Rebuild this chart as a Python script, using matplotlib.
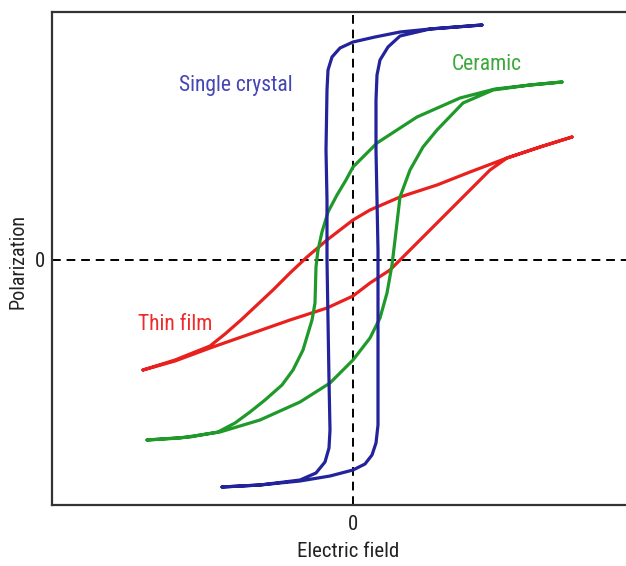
import matplotlib.pyplot as plt

'''hysteresis loops: polarization vs electric field for three ferroelectrics'''

# each loop: ascending branch (lower left tip -> upper right tip), then descending branch back
crystal_up_E = [-1.31, -0.93, -0.53, -0.23, 0.00, 0.12, 0.19, 0.23, 0.25, 0.25, 0.25, 0.25,
                0.24, 0.23, 0.23, 0.24, 0.27, 0.35, 0.47, 0.77, 1.29]
crystal_up_P = [-2.27, -2.25, -2.21, -2.16, -2.10, -2.04, -1.95, -1.83, -1.65, -1.20, -0.40, 0.10,
                0.60, 1.10, 1.60, 1.85, 2.00, 2.13, 2.24, 2.31, 2.35]
crystal_down_E = [1.29, 0.77, 0.47, 0.22, 0.00, -0.13, -0.21, -0.25, -0.26, -0.27, -0.26, -0.26,
                  -0.25, -0.24, -0.23, -0.24, -0.28, -0.37, -0.53, -0.93, -1.31]
crystal_down_P = [2.35, 2.31, 2.28, 2.23, 2.18, 2.12, 2.03, 1.90, 1.70, 1.10, 0.60, 0.00,
                  -0.60, -1.20, -1.70, -1.88, -2.02, -2.13, -2.20, -2.25, -2.27]

ceramic_up_E = [-2.06, -1.73, -1.33, -0.93, -0.53, -0.23, 0.00, 0.17, 0.27, 0.34, 0.39, 0.42,
                0.47, 0.57, 0.70, 0.84, 1.10, 1.40, 1.77, 2.09]
ceramic_up_P = [-1.80, -1.78, -1.72, -1.60, -1.42, -1.23, -1.00, -0.78, -0.58, -0.33, -0.05, 0.20,
                0.63, 0.90, 1.13, 1.30, 1.57, 1.70, 1.75, 1.78]
ceramic_down_E = [2.09, 1.77, 1.42, 1.07, 0.64, 0.44, 0.24, 0.00, -0.07, -0.16, -0.25, -0.31,
                  -0.35, -0.37, -0.38, -0.41, -0.50, -0.60, -0.71, -0.88, -1.03, -1.18, -1.35,
                  -1.63, -2.06]
ceramic_down_P = [1.78, 1.75, 1.71, 1.62, 1.43, 1.30, 1.17, 0.93, 0.80, 0.65, 0.48, 0.28,
                  0.10, -0.07, -0.43, -0.60, -0.90, -1.10, -1.25, -1.40, -1.52, -1.63, -1.72,
                  -1.77, -1.80]

film_up_E = [-2.10, -1.78, -1.43, -1.03, -0.63, -0.26, 0.00, 0.17, 0.37, 0.49, 0.67, 0.90,
             1.17, 1.37, 1.54, 1.87, 2.19]
film_up_P = [-1.10, -1.01, -0.88, -0.74, -0.60, -0.48, -0.36, -0.23, -0.10, 0.02, 0.20, 0.43,
             0.70, 0.90, 1.02, 1.13, 1.23]
film_down_E = [2.19, 1.87, 1.54, 1.17, 0.84, 0.47, 0.17, 0.00, -0.26, -0.46, -0.63, -0.80,
               -0.96, -1.12, -1.28, -1.43, -1.78, -2.10]
film_down_P = [1.23, 1.13, 1.02, 0.88, 0.75, 0.63, 0.50, 0.40, 0.20, 0.03, -0.13, -0.30,
               -0.45, -0.60, -0.74, -0.86, -1.00, -1.10]

plt.rcParams['font.family'] = ['Roboto Condensed', 'Liberation Sans', 'DejaVu Sans']

fig = plt.figure(figsize=(6.26, 5.66), dpi=100)
ax = fig.add_axes([52 / 626, 61 / 566, 574 / 626, 493 / 566])

# zero lines
ax.axhline(0, color='black', lw=1.4, ls=(0, (4.5, 3)), zorder=1)
ax.axvline(0, color='black', lw=1.4, ls=(0, (4.5, 3)), zorder=1)

loops = [
    (film_up_E + film_down_E, film_up_P + film_down_P, '#e8201e'),
    (ceramic_up_E + ceramic_down_E, ceramic_up_P + ceramic_down_P, '#1f9a2a'),
    (crystal_up_E + crystal_down_E, crystal_up_P + crystal_down_P, '#23239c'),
]
for E, P, c in loops:
    ax.plot(E, P, color=c, lw=2.3, solid_joinstyle='round', solid_capstyle='round', zorder=2)

ax.text(-1.17, 1.74, 'Single crystal', color='#4545b5', fontsize=15.5, ha='center', va='center')
ax.text(1.34, 1.95, 'Ceramic', color='#3aa83a', fontsize=15.5, ha='center', va='center')
ax.text(-1.78, -0.65, 'Thin film', color='#ee2a2a', fontsize=15.5, ha='center', va='center')

ax.set_xlim(-3.01, 2.73)
ax.set_ylim(-2.45, 2.48)
ax.set_xticks([0])
ax.set_yticks([0])
ax.tick_params(length=0, labelsize=15, labelcolor='#222222')
ax.tick_params(axis='x', pad=7)
ax.tick_params(axis='y', pad=5)
ax.set_xlabel('Electric field', fontsize=15, color='#222222', va='center')
ax.set_ylabel('Polarization', fontsize=14.5, color='#222222', va='center', ha='center')
ax.xaxis.set_label_coords(0.516, -0.095)
ax.yaxis.set_label_coords(-0.059, 0.493)

for side in ['left', 'top', 'bottom']:
    ax.spines[side].set_color('#333333')
    ax.spines[side].set_linewidth(1.6)
ax.spines['right'].set_visible(False)

fig.savefig('out.png', dpi=100)
